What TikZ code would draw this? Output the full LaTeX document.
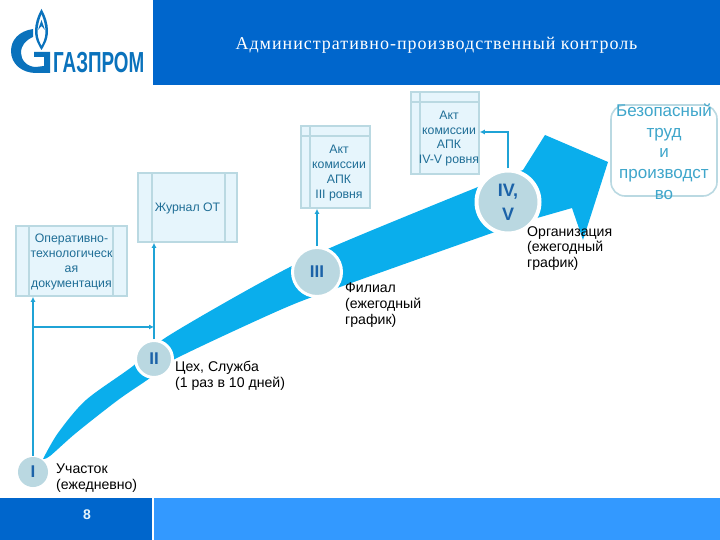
\documentclass[tikz,border=0pt]{standalone}
\usepackage{fontspec}
\setmainfont{Liberation Sans}
\newfontfamily\serifrm[LetterSpace=5.5]{Liberation Serif}
\usetikzlibrary{arrows.meta,calc}
\definecolor{hdrblue}{HTML}{0066CC}
\definecolor{ftrblue}{HTML}{3399FF}
\definecolor{arrowblue}{HTML}{0AAEEC}
\definecolor{circfill}{HTML}{BAD8E1}
\definecolor{boxfill}{HTML}{E6F5FC}
\definecolor{boxline}{HTML}{BAD9E2}
\definecolor{linkblue}{HTML}{1FA3D6}
\definecolor{boxtext}{HTML}{1F6E96}
\definecolor{safetext}{HTML}{3FA6CB}
\definecolor{romtext}{HTML}{1B62A8}
\definecolor{logoblue}{HTML}{0A72BC}
\newcommand{\fs}[2]{\fontsize{#1}{#2}\selectfont}
\tikzset{
  x=1pt,y=-1pt,
  docbox/.style={draw=boxline,fill=boxfill,line width=1.6pt,inner sep=0pt,minimum width=#1},
  boxlabel/.style={text=boxtext,align=center,font=\fs{12.3}{14.8}},
  caption/.style={anchor=north west,align=left,inner sep=0pt,text=black,font=\fs{14.1}{15.6}},
  stage/.style={circle,fill=circfill,draw=white,line width=3pt,inner sep=0pt,text=romtext,align=center,font=\bfseries},
  link/.style={draw=linkblue,line width=1.8pt,-{Latex[length=5pt,width=5pt]}},
}
\begin{document}
\begin{tikzpicture}
\useasboundingbox (0,0) rectangle (720,540);
\fill[white] (0,0) rectangle (720,540);
% header and footer
\fill[hdrblue] (153,0) rectangle (720,85);
\fill[hdrblue] (0,498) rectangle (152,540);
\fill[ftrblue] (154,498) rectangle (720,540);
\node[text=white,font=\serifrm\fs{18}{20}] (title) at (436.5,45) {Административно-производственный контроль};
\node[text=boxfill,font=\bfseries\fs{14}{16}] (page) at (87,515) {8};
% logo
\fill[logoblue,even odd rule] (41.5,9) .. controls (37,17) and (35,24) .. (35,31) .. controls (35,40) and (39,46) .. (41.5,50) .. controls (44,46) and (48,40) .. (48,31) .. controls (48,24) and (46,17) .. (41.5,9)
  (41.5,14) .. controls (39,20) and (37.5,26) .. (37.5,32) .. controls (37.5,38) and (40,43) .. (41.5,46) .. controls (43,43) and (45.5,38) .. (45.5,32) .. controls (45.5,26) and (44,20) .. (41.5,14);
\fill[logoblue] (41.5,20) -- (45,30) -- (41.5,26) -- (38,30) -- cycle;
\fill[logoblue] (33,29) .. controls (19,31) and (11,40) .. (11,51) .. controls (11,64) and (22,73) .. (36,73) -- (50,73) -- (50,52) -- (34,52) -- (34,57) -- (44,57) -- (44,66) -- (36,67)
  .. controls (27,67) and (21,60) .. (21,53) .. controls (21,45) and (26,40) .. (33,37) -- cycle;
\node[text=logoblue,anchor=west,inner sep=0pt,font=\bfseries\fs{29}{29},xscale=.65] (logotext) at (53,62.5) {ГАЗПРОМ};
% big arrow
\fill[arrowblue] plot[smooth,tension=.5] coordinates {(43,459) (58,433) (86,400) (133,366) (165,338) (260,283) (330,248) (473,189) (523,170)}
  -- (545,135) -- (608,162) -- (583,240) -- (572,208) -- (537,218)
  -- plot[smooth,tension=.5] coordinates {(537,218) (492,233) (340,287) (280,310) (173,360) (150,378) (118,400) (76,433) (50,456) (43,459)} -- cycle;
% documents
\node[docbox=99pt,minimum height=69pt] (jour) at (187.5,207.5) {};
\draw[boxline,line width=1.6pt] (152,173) -- (152,242) (225,173) -- (225,242);
\node[boxlabel] (jourt) at (187.5,208) {Журнал ОТ};
\node[docbox=111pt,minimum height=70pt] (oper) at (71.5,261) {};
\draw[boxline,line width=1.6pt] (29,226) -- (29,296) (113,226) -- (113,296);
\node[boxlabel] (opert) at (71.5,262) {Оперативно-\\технологическ\\ая\\документация};
\node[docbox=69pt,minimum height=82pt] (act3) at (335.5,167) {};
\draw[boxline,line width=1.6pt] (310,126) -- (310,208) (301,136) -- (370,136);
\node[boxlabel] (act3t) at (339,173) {Акт\\комиссии\\АПК\\III ровня};
\node[docbox=68pt,minimum height=82pt] (act4) at (445,133) {};
\draw[boxline,line width=1.6pt] (420,92) -- (420,174) (411,102) -- (479,102);
\node[boxlabel] (act4t) at (449,138.5) {Акт\\комиссии\\АПК\\IV-V ровня};
\node[draw=boxline,line width=1.6pt,rounded corners=14pt,fill=white,minimum width=106pt,minimum height=91pt,inner sep=0pt] (safe) at (664,150.5) {};
\node[text=safetext,align=center,font=\fs{17}{20.7}] (safet) at (664,151.5) {Безопасный\\труд\\и\\производст\\во};
% stages
\node[stage,minimum size=30pt,font=\bfseries\fs{17}{20},draw=none] (s1) at (33,472) {I};
\node[stage,minimum size=37pt,font=\bfseries\fs{17}{20}] (s2) at (154,359) {II};
\node[stage,minimum size=49pt,font=\bfseries\fs{17}{20}] (s3) at (317,272) {III};
\node[stage,minimum size=63pt,line width=4pt,font=\bfseries\fs{18}{24}] (s4) at (508,202) {IV,\\V};
% connectors
\draw[link] (s1.north) -- (s1.north |- oper.south);
\coordinate (branch) at ($(s1.north |- oper.south)!0.19!(s1.north)$);
\draw[link] (branch) -- (branch -| s2.north);
\draw[link] (s2.north) -- (s2.north |- jour.south);
\draw[link] (s3.north) -- (s3.north |- act3.south);
\draw[link] (s4.north) |- (act4.east |- 0,132);
% captions
\node[caption] (c1) at (56,463.5) {Участок\\(ежедневно)};
\node[caption] (c2) at (175,361) {Цех, Служба\\(1 раз в 10 дней)};
\node[caption] (c3) at (345,283) {Филиал\\(ежегодный\\график)};
\node[caption] (c4) at (527,226) {Организация\\(ежегодный\\график)};
\end{tikzpicture}
\end{document}
